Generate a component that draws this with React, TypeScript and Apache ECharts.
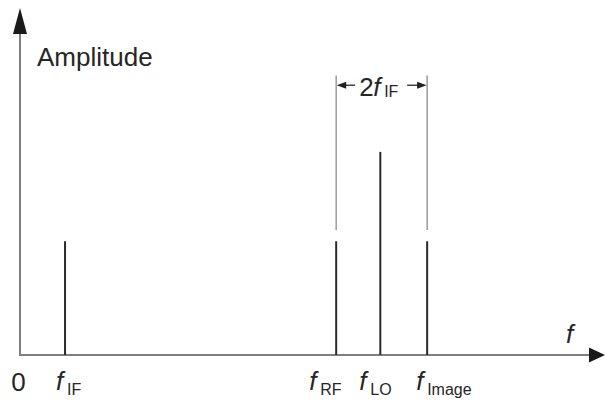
import React, { useEffect, useRef } from "react";
import * as echarts from "echarts";

const FONT = "'Liberation Sans', Arial, Helvetica, sans-serif";

// frequencies expressed in units of f_IF
const spikeFreqs = [1, 7.02, 8, 9.04];
const spikeAmps = [3.5, 3.5, 6.25, 3.5];

// axis label positions and subscripts
const labelValues = [0, 1, 7.02, 8, 9.04];
const labelSubs = ["", "IF", "RF", "LO", "Image"];
const labelShift = [-1.5, -9, -27, -21, -11];

// 2 f_IF dimension between f_RF and f_Image
const dimFrom = 7.02;
const dimTo = 9.04;
const dimLevel = 8.3;
const dimTop = 8.6;
const dimBottom = 3.85;

const xMax = 12.7;
const yMax = 10;

export default function App() {
  const ref = useRef<HTMLDivElement>(null);

  useEffect(() => {
    if (!ref.current) return;
    const chart = echarts.init(ref.current, undefined, { renderer: "svg" });
    const axisColor = "#808080";
    const textColor = "#262626";
    const mainFont = `26px ${FONT}`;
    const italicFont = `italic 26px ${FONT}`;
    const subFont = `16px ${FONT}`;

    chart.setOption({
      animation: false,
      backgroundColor: "#ffffff",
      grid: { left: 20, right: 14, top: 30, bottom: 45 },
      xAxis: {
        type: "value",
        min: 0,
        max: xMax,
        axisLine: { show: true, lineStyle: { color: axisColor, width: 2 } },
        axisTick: { show: false },
        axisLabel: { show: false },
        splitLine: { show: false },
      },
      yAxis: {
        type: "value",
        min: 0,
        max: yMax,
        axisLine: { show: true, lineStyle: { color: axisColor, width: 2 } },
        axisTick: { show: false },
        axisLabel: { show: false },
        splitLine: { show: false },
      },
      graphic: [
        {
          type: "polygon",
          shape: { points: [[20, 8], [27, 34], [13, 34]] },
          style: { fill: "#1a1a1a" },
          z: 100,
        },
        {
          type: "polygon",
          shape: { points: [[605, 355], [589, 347.5], [589, 362.5]] },
          style: { fill: "#1a1a1a" },
          z: 100,
        },
        {
          type: "text",
          x: 37,
          y: 57,
          style: {
            text: "Amplitude",
            font: mainFont,
            fill: textColor,
            align: "left",
            verticalAlign: "middle",
          },
        },
        {
          type: "text",
          x: 566,
          y: 334,
          style: {
            text: "f",
            font: italicFont,
            fill: textColor,
            align: "left",
            verticalAlign: "middle",
          },
        },
      ],
      series: [
        {
          type: "custom",
          name: "spikes",
          data: spikeFreqs.map((f, i) => [f, spikeAmps[i]]),
          renderItem: (params: any, api: any) => {
            const p0 = api.coord([api.value(0), 0]);
            const p1 = api.coord([api.value(0), api.value(1)]);
            return {
              type: "line",
              shape: { x1: p0[0], y1: p0[1], x2: p1[0], y2: p1[1] },
              style: { stroke: "#2a2a2a", lineWidth: 2 },
            };
          },
          z: 5,
        },
        {
          type: "custom",
          name: "labels",
          data: labelValues.map((v) => [v, 0]),
          renderItem: (params: any, api: any) => {
            const i = params.dataIndex;
            const p = api.coord([api.value(0), 0]);
            const x = p[0] + labelShift[i];
            if (!labelSubs[i]) {
              return {
                type: "text",
                style: {
                  text: "0",
                  x,
                  y: p[1] + 27,
                  font: mainFont,
                  fill: textColor,
                  align: "center",
                  verticalAlign: "middle",
                },
              };
            }
            return {
              type: "group",
              children: [
                {
                  type: "text",
                  style: {
                    text: "f",
                    x,
                    y: p[1] + 26,
                    font: italicFont,
                    fill: textColor,
                    align: "left",
                    verticalAlign: "middle",
                  },
                },
                {
                  type: "text",
                  style: {
                    text: labelSubs[i],
                    x: x + 11,
                    y: p[1] + 34,
                    font: subFont,
                    fill: textColor,
                    align: "left",
                    verticalAlign: "middle",
                  },
                },
              ],
            };
          },
        },
        {
          type: "custom",
          name: "dimension",
          data: [[dimFrom, dimTo, dimLevel, dimTop, dimBottom]],
          renderItem: (params: any, api: any) => {
            const a = api.coord([api.value(0), api.value(2)]);
            const b = api.coord([api.value(1), api.value(2)]);
            const top = api.coord([api.value(0), api.value(3)])[1];
            const bot = api.coord([api.value(0), api.value(4)])[1];
            const y = a[1];
            const xa = a[0];
            const xb = b[0];
            const ext = { stroke: "#9a9a9a", lineWidth: 1.5 };
            const seg = { stroke: "#444", lineWidth: 1.5 };
            return {
              type: "group",
              children: [
                { type: "line", shape: { x1: xa, y1: top, x2: xa, y2: bot }, style: ext },
                { type: "line", shape: { x1: xb, y1: top, x2: xb, y2: bot }, style: ext },
                { type: "line", shape: { x1: xa + 6, y1: y, x2: xa + 19, y2: y }, style: seg },
                { type: "line", shape: { x1: xb - 20, y1: y, x2: xb - 6, y2: y }, style: seg },
                {
                  type: "polygon",
                  shape: { points: [[xa + 0.5, y], [xa + 10, y - 3.5], [xa + 10, y + 3.5]] },
                  style: { fill: "#222" },
                },
                {
                  type: "polygon",
                  shape: { points: [[xb - 0.5, y], [xb - 10, y - 3.5], [xb - 10, y + 3.5]] },
                  style: { fill: "#222" },
                },
                {
                  type: "text",
                  style: {
                    text: "2",
                    x: xa + 23,
                    y: y + 1.5,
                    font: mainFont,
                    fill: textColor,
                    align: "left",
                    verticalAlign: "middle",
                  },
                },
                {
                  type: "text",
                  style: {
                    text: "f",
                    x: xa + 37,
                    y: y + 1.5,
                    font: italicFont,
                    fill: textColor,
                    align: "left",
                    verticalAlign: "middle",
                  },
                },
                {
                  type: "text",
                  style: {
                    text: "IF",
                    x: xa + 48,
                    y: y + 6,
                    font: subFont,
                    fill: textColor,
                    align: "left",
                    verticalAlign: "middle",
                  },
                },
              ],
            };
          },
        },
      ],
    });
    return () => chart.dispose();
  }, []);

  return (
    <div
      ref={ref}
      style={{ position: "fixed", left: 0, top: 0, width: 606, height: 400, background: "#fff" }}
    />
  );
}
